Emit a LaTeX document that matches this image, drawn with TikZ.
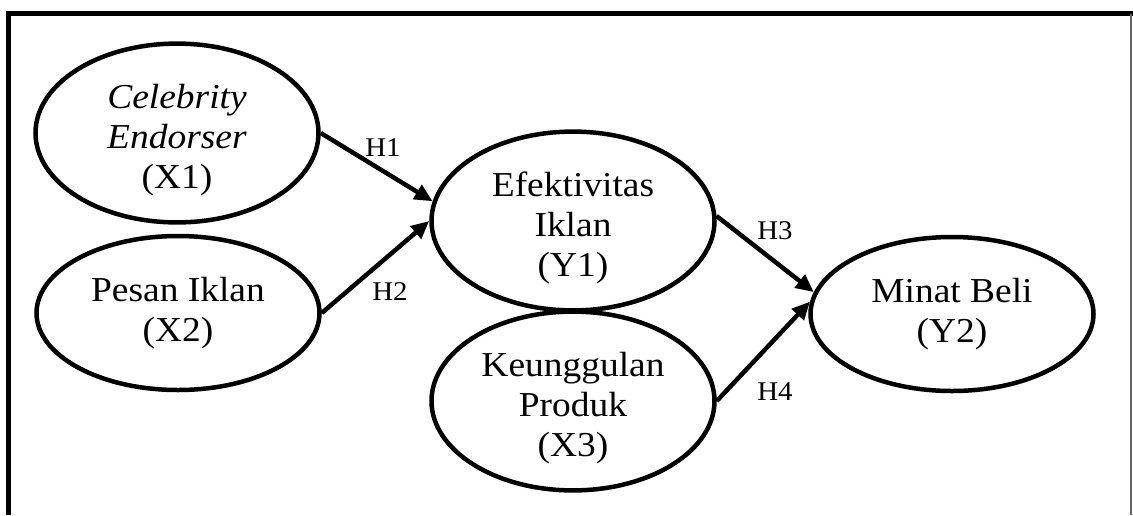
\documentclass[tikz,border=0pt]{standalone}
\usepackage{fontspec}
\setmainfont[FakeStretch=1.07]{Liberation Serif}
\usetikzlibrary{shapes.geometric,arrows.meta}
% raises the first of three lines so the block sits a little low in its ellipse
\newcommand{\firstline}{\rule{0pt}{39pt}}

\begin{document}
\begin{tikzpicture}[x=1pt,y=-1pt,
  var/.style={ellipse, draw, line width=4.5pt, minimum width=283pt,
    minimum height=154pt, inner sep=0pt, align=center,
    font=\fontsize{35}{40}\selectfont},
  link/.style={line width=4.5pt, -{Triangle[length=18pt,width=16pt]}},
  hyp/.style={inner sep=0pt, font=\fontsize{27}{30}\selectfont},
  frame/.style={line width=5pt}]
\useasboundingbox (0,0) rectangle (1133,515);

% outer frame
\draw[frame] (8.5,515) -- (8.5,13.5) -- (1133,13.5);
\draw[line width=1.5pt, black!60] (1131,13.5) -- (1131,515);

% constructs
\node[var] (x1) at (177,133) {\firstline\textit{Celebrity}\\\textit{Endorser}\\(X1)};
\node[var] (x2) at (178,313) {Pesan Iklan\\(X2)};
\node[var] (y1) at (573,221) {\firstline Efektivitas\\Iklan\\(Y1)};
\node[var] (x3) at (573,401) {\firstline Keunggulan\\Produk\\(X3)};
\node[var] (y2) at (952,314) {Minat Beli\\(Y2)};

% hypothesised paths
\draw[link] (x1.east) -- (y1.172);
\draw[link] (x2.east) -- (y1.west);
\draw[link] (y1.2) -- (y2.171);
\draw[link] (x3.east) -- (y2.175);

% hypothesis labels
\node[hyp] (h1) at (383,148) {H1};
\node[hyp] (h2) at (390,292) {H2};
\node[hyp] (h3) at (775,231) {H3};
\node[hyp] (h4) at (775,392) {H4};
\end{tikzpicture}
\end{document}
